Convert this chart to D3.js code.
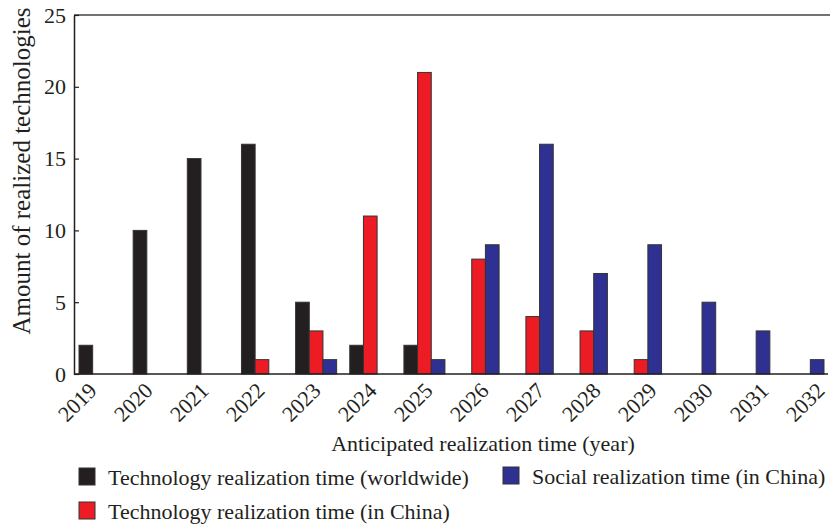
<!DOCTYPE html>
<html>
<head>
<meta charset="utf-8">
<script src="https://cdn.jsdelivr.net/npm/d3@7"></script>
<style>
  body { margin: 0; background: #fff; }
  text { font-family: "Liberation Serif", "Times New Roman", serif; fill: #231f20; }
</style>
</head>
<body>
<svg id="chart" width="830" height="525"></svg>
<script>
var years = ["2019", "2020", "2021", "2022", "2023", "2024", "2025", "2026", "2027", "2028", "2029", "2030", "2031", "2032"];
var seriesNames = ["Technology realization time (worldwide)", "Technology realization time (in China)", "Social realization time (in China)"];
var worldwide = [2, 10, 15, 16, 5, 2, 2, 0, 0, 0, 0, 0, 0, 0];
var chinaTech = [0, 0, 0, 1, 3, 11, 21, 8, 4, 3, 1, 0, 0, 0];
var chinaSocial = [0, 0, 0, 0, 1, 0, 1, 9, 16, 7, 9, 5, 3, 1];
var yTicks = [0, 5, 10, 15, 20, 25];
var colors = ["#231f20", "#ed1c24", "#2e3192"];

var svg = d3.select("#chart");
var plotLeft = 74, plotTop = 15, plotBottom = 374, plotRight = 830;

var series = [worldwide, chinaTech, chinaSocial];

var x = d3.scaleBand()
    .domain(years)
    .range([79, 824])
    .paddingInner(0.2426)
    .paddingOuter(0);

var xSub = d3.scaleBand()
    .domain([0, 1, 2])
    .range([0, x.bandwidth()]);

// tick labels sit a little off the bar groups in the original
var xLabel = d3.scalePoint()
    .domain(years)
    .range([98, 826]);

var y = d3.scaleLinear()
    .domain([0, 25])
    .range([plotBottom, plotTop]);

// bars
var groups = svg.append("g")
  .selectAll("g")
  .data(years)
  .enter().append("g")
    .attr("transform", function (d) { return "translate(" + x(d) + ",0)"; });

groups.selectAll("rect")
  .data(function (d, i) {
    return series.map(function (s, k) { return { k: k, v: s[i] }; })
      .filter(function (e) { return e.v > 0; });
  })
  .enter().append("rect")
    .attr("x", function (d) { return xSub(d.k); })
    .attr("width", xSub.bandwidth())
    .attr("y", function (d) { return y(d.v); })
    .attr("height", function (d) { return plotBottom - y(d.v); })
    .attr("fill", function (d) { return colors[d.k]; })
    .attr("stroke", "#333")
    .attr("stroke-width", 1);

// frame
svg.append("line")
    .attr("x1", plotLeft).attr("x2", plotRight)
    .attr("y1", plotTop).attr("y2", plotTop)
    .attr("stroke", "#444").attr("stroke-width", 1.5);

var yAxis = svg.append("g")
    .attr("transform", "translate(" + plotLeft + ",0)")
    .call(d3.axisLeft(y).tickValues(yTicks).tickSizeInner(-5).tickSizeOuter(0).tickPadding(8));
yAxis.select(".domain").attr("stroke", "#231f20").attr("stroke-width", 1.5);
yAxis.selectAll(".tick line").attr("stroke", "#231f20").attr("stroke-width", 1.2);
yAxis.selectAll("text").style("font-size", "22px").attr("fill", "#231f20").attr("font-family", null);

svg.append("line")
    .attr("x1", plotLeft).attr("x2", 828)
    .attr("y1", plotBottom).attr("y2", plotBottom)
    .attr("stroke", "#231f20").attr("stroke-width", 1.5);

// x tick labels
svg.append("g")
  .selectAll("text")
  .data(years)
  .enter().append("text")
    .attr("text-anchor", "end")
    .attr("transform", function (d) { return "translate(" + xLabel(d) + "," + (plotBottom + 18) + ") rotate(-45)"; })
    .style("font-size", "22px")
    .text(function (d) { return d; });

// axis titles
svg.append("text")
    .attr("x", 483).attr("y", 451)
    .attr("text-anchor", "middle")
    .style("font-size", "22px")
    .text("Anticipated realization time (year)");

svg.append("text")
    .attr("transform", "translate(30,171) rotate(-90)")
    .attr("text-anchor", "middle")
    .style("font-size", "25px")
    .text("Amount of realized technologies");

// legend
var legendPos = [[79, 468], [79, 502], [503, 467]];
var legend = svg.append("g")
  .selectAll("g")
  .data(seriesNames)
  .enter().append("g")
    .attr("transform", function (d, i) { return "translate(" + legendPos[i][0] + "," + legendPos[i][1] + ")"; });

legend.append("rect")
    .attr("width", 16).attr("height", 17)
    .attr("fill", function (d, i) { return colors[i]; })
    .attr("stroke", "#333").attr("stroke-width", 1);

legend.append("text")
    .attr("x", 29).attr("y", 17)
    .style("font-size", "22px")
    .text(function (d) { return d; });
</script>
</body>
</html>
